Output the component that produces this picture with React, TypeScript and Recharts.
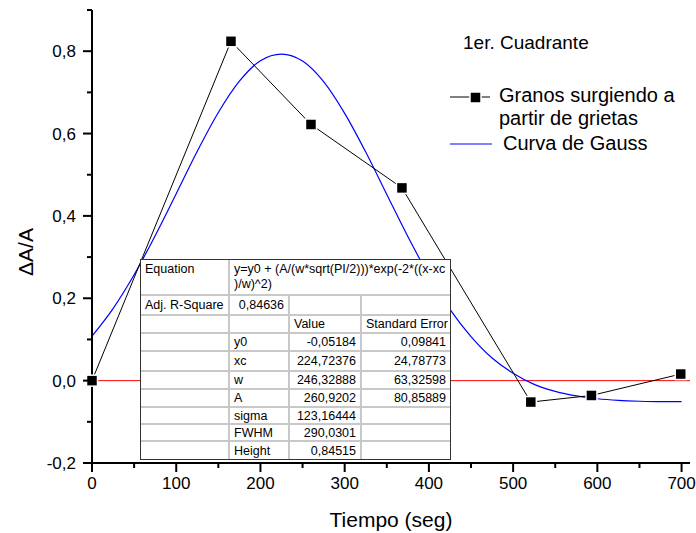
import React from 'react';
import { LineChart, Line, XAxis, YAxis, ReferenceLine } from 'recharts';

// measured points
const sampleX = [0, 165, 260, 368, 521, 593, 699];
const sampleY = [0.0, 0.824, 0.622, 0.468, -0.052, -0.036, 0.016];

const gaussX = [0, 25, 50, 75, 100, 125, 150, 175, 200, 225, 250, 275, 300, 325, 350, 375, 400, 425, 450, 475, 500, 525, 550, 575, 600, 625, 650, 675, 700];
const gaussY = [0.108, 0.175, 0.257, 0.352, 0.454, 0.557, 0.651, 0.727, 0.777, 0.793, 0.776, 0.726, 0.649, 0.555, 0.452, 0.35, 0.255, 0.173, 0.107, 0.055, 0.018, -0.009, -0.026, -0.037, -0.044, -0.048, -0.05, -0.051, -0.051];

const xTicks = [0, 50, 100, 150, 200, 250, 300, 350, 400, 450, 500, 550, 600, 650, 700];
const yTicks = [-0.2, -0.1, 0, 0.1, 0.2, 0.3, 0.4, 0.5, 0.6, 0.7, 0.8, 0.9];

const fitRows = [
  ['y0', '-0,05184', '0,09841'],
  ['xc', '224,72376', '24,78773'],
  ['w', '246,32888', '63,32598'],
  ['A', '260,9202', '80,85889'],
  ['sigma', '123,16444', ''],
  ['FWHM', '290,0301', ''],
  ['Height', '0,84515', ''],
];

const FONT = '"Liberation Sans", Arial, sans-serif';

const samples = sampleX.map((x, i) => ({ x, y: sampleY[i] }));
const gauss = gaussX.map((x, i) => ({ x, y: gaussY[i] }));

const XTick = (props: any) => {
  const { x, y, payload } = props;
  const major = payload.value % 100 === 0;
  return (
    <g>
      <line x1={x} y1={y} x2={x} y2={y + (major ? 9 : 5)} stroke="#000" strokeWidth={2} />
      {major && (
        <text x={x} y={y + 26} textAnchor="middle" fontSize={17} fontFamily={FONT} fill="#000">
          {payload.value}
        </text>
      )}
    </g>
  );
};

const YTick = (props: any) => {
  const { x, y, payload } = props;
  const tenth = Math.round(payload.value * 10);
  const major = tenth % 2 === 0;
  return (
    <g>
      <line x1={x} y1={y} x2={x - (major ? 9 : 5)} y2={y} stroke="#000" strokeWidth={2} />
      {major && (
        <text x={x - 16} y={y} dy="0.36em" textAnchor="end" fontSize={17} fontFamily={FONT} fill="#000">
          {(tenth / 10).toFixed(1).replace('.', ',')}
        </text>
      )}
    </g>
  );
};

const SquareDot = (props: any) => {
  const { cx, cy } = props;
  if (cx == null || cy == null) return null;
  return <rect x={cx - 5.5} y={cy - 5.5} width={11} height={11} fill="#000" stroke="#fff" strokeWidth={1.5} />;
};

const cell: React.CSSProperties = {
  borderRight: '2px solid #c8c8c8',
  borderBottom: '2px solid #c8c8c8',
  padding: '0 4px',
  whiteSpace: 'nowrap',
};

const FitTable = () => {
  const rowH = [18, 20, 18, 18, 17, 17, 18];
  return (
    <div
      style={{
        position: 'absolute',
        left: 140,
        top: 259,
        width: 311,
        background: '#fff',
        border: '1px solid #333',
        fontFamily: FONT,
        fontSize: 12.5,
        color: '#000',
        boxSizing: 'border-box',
      }}
    >
      <table style={{ borderCollapse: 'collapse', width: '100%', tableLayout: 'fixed' }}>
        <colgroup>
          <col style={{ width: 88 }} />
          <col style={{ width: 60 }} />
          <col style={{ width: 72 }} />
          <col style={{ width: 89 }} />
        </colgroup>
        <tbody>
          <tr style={{ height: 35 }}>
            <td style={{ ...cell, verticalAlign: 'top', paddingTop: 2 }}>Equation</td>
            <td colSpan={3} style={{ ...cell, borderRight: 'none', verticalAlign: 'top', paddingTop: 2, lineHeight: '15px' }}>
              y=y0 + (A/(w*sqrt(PI/2)))*exp(-2*((x-xc
              <br />
              )/w)^2)
            </td>
          </tr>
          <tr style={{ height: 20 }}>
            <td style={cell}>Adj. R-Square</td>
            <td style={{ ...cell, textAlign: 'right' }}>0,84636</td>
            <td style={cell}></td>
            <td style={{ ...cell, borderRight: 'none' }}></td>
          </tr>
          <tr style={{ height: 18 }}>
            <td style={cell}></td>
            <td style={cell}></td>
            <td style={cell}>Value</td>
            <td style={{ ...cell, borderRight: 'none' }}>Standard Error</td>
          </tr>
          {fitRows.map((r, i) => (
            <tr key={r[0]} style={{ height: rowH[i] }}>
              <td style={{ ...cell, borderBottom: i === fitRows.length - 1 ? 'none' : cell.borderBottom }}></td>
              <td style={{ ...cell, borderBottom: i === fitRows.length - 1 ? 'none' : cell.borderBottom }}>{r[0]}</td>
              <td style={{ ...cell, textAlign: 'right', borderBottom: i === fitRows.length - 1 ? 'none' : cell.borderBottom }}>{r[1]}</td>
              <td style={{ ...cell, textAlign: 'right', borderRight: 'none', borderBottom: i === fitRows.length - 1 ? 'none' : cell.borderBottom }}>{r[2]}</td>
            </tr>
          ))}
        </tbody>
      </table>
    </div>
  );
};

const LegendBox = () => (
  <div style={{ position: 'absolute', left: 446, top: 30, fontFamily: FONT, color: '#000' }}>
    <div style={{ position: 'absolute', left: 17, top: 0, fontSize: 19, whiteSpace: 'nowrap', lineHeight: '26px' }}>1er. Cuadrante</div>
    <svg style={{ position: 'absolute', left: 0, top: 58 }} width={50} height={20}>
      <line x1={4} y1={9} x2={44} y2={9} stroke="#000" strokeWidth={1} />
      <rect x={24} y={4} width={11} height={11} fill="#000" stroke="#fff" strokeWidth={1.5} />
    </svg>
    <div style={{ position: 'absolute', left: 53, top: 54, fontSize: 20, lineHeight: '23px', whiteSpace: 'nowrap' }}>
      Granos surgiendo a
      <br />
      partir de grietas
    </div>
    <svg style={{ position: 'absolute', left: 0, top: 104 }} width={50} height={20}>
      <line x1={4} y1={10} x2={46} y2={10} stroke="#0000ff" strokeWidth={1.2} />
    </svg>
    <div style={{ position: 'absolute', left: 57, top: 102, fontSize: 20, lineHeight: '23px', whiteSpace: 'nowrap' }}>
      Curva de Gauss
    </div>
  </div>
);

export default function App() {
  return (
    <div style={{ position: 'absolute', left: 0, top: 0, width: 696, height: 533, background: '#fff' }}>
      <LineChart width={696} height={533} margin={{ top: 10, right: 6, left: 0, bottom: 0 }}>
        <XAxis
          type="number"
          dataKey="x"
          domain={[0, 710]}
          ticks={xTicks}
          interval={0}
          height={70}
          tickSize={0}
          tickMargin={0}
          tickLine={false}
          tick={<XTick />}
          axisLine={{ stroke: '#000', strokeWidth: 2 }}
          label={{
            content: () => (
              <text x={391} y={527} textAnchor="middle" fontSize={21} fontFamily={FONT} fill="#000">
                Tiempo (seg)
              </text>
            ),
          }}
        />
        <YAxis
          type="number"
          domain={[-0.2, 0.9]}
          ticks={yTicks}
          interval={0}
          width={92}
          tickSize={0}
          tickMargin={0}
          tickLine={false}
          tick={<YTick />}
          axisLine={{ stroke: '#000', strokeWidth: 2 }}
          label={{
            content: () => (
              <text x={33} y={252} transform="rotate(-90 33 252)" textAnchor="middle" fontSize={21} fontFamily={FONT} fill="#000">
                ΔA/A
              </text>
            ),
          }}
        />
        <ReferenceLine y={0} stroke="#ff0000" strokeWidth={1} />
        <Line
          data={gauss}
          dataKey="y"
          type="monotone"
          stroke="#0000ff"
          strokeWidth={1.2}
          dot={false}
          activeDot={false}
          isAnimationActive={false}
        />
        <Line
          data={samples}
          dataKey="y"
          type="linear"
          stroke="#000"
          strokeWidth={1}
          dot={<SquareDot />}
          activeDot={false}
          isAnimationActive={false}
        />
      </LineChart>
      <FitTable />
      <LegendBox />
    </div>
  );
}
